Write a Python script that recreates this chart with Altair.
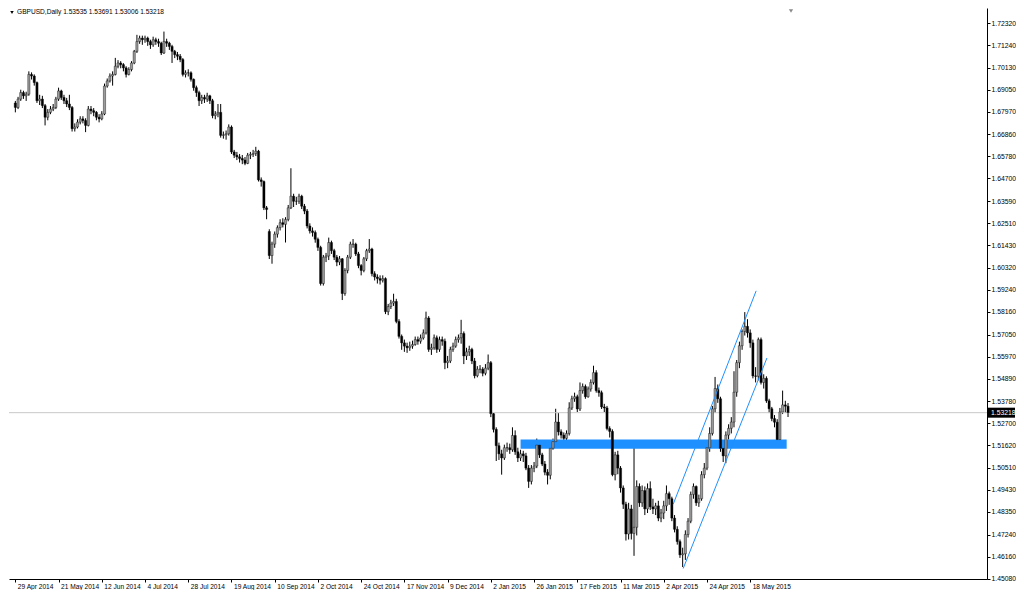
import altair as alt
import pandas as pd

title_text = "GBPUSD,Daily  1.53535 1.53691 1.53006 1.53218"

opens = [
    1.6840, 1.6818, 1.6859, 1.6891, 1.6875, 1.6883, 1.6980, 1.6972, 1.6940, 1.6851,
    1.6859, 1.6827, 1.6770, 1.6794, 1.6810, 1.6818, 1.6859, 1.6899, 1.6867, 1.6851,
    1.6835, 1.6818, 1.6714, 1.6722, 1.6746, 1.6762, 1.6754, 1.6730, 1.6810, 1.6802,
    1.6794, 1.6770, 1.6762, 1.6786, 1.6923, 1.6948, 1.6972, 1.6980, 1.7020, 1.7036,
    1.7028, 1.7012, 1.6980, 1.7004, 1.7036, 1.7093, 1.7141, 1.7158, 1.7150, 1.7158,
    1.7141, 1.7125, 1.7150, 1.7141, 1.7133, 1.7085, 1.7141, 1.7133, 1.7117, 1.7093,
    1.7077, 1.7069, 1.7053, 1.6980, 1.6988, 1.6988, 1.6956, 1.6915, 1.6891, 1.6851,
    1.6867, 1.6859, 1.6875, 1.6851, 1.6778, 1.6786, 1.6794, 1.6681, 1.6684, 1.6689,
    1.6722, 1.6600, 1.6584, 1.6576, 1.6568, 1.6560, 1.6544, 1.6584, 1.6588, 1.6592,
    1.6604, 1.6463, 1.6455, 1.6326, 1.6210, 1.6092, 1.6148, 1.6197, 1.6229, 1.6253,
    1.6245, 1.6269, 1.6326, 1.6383, 1.6358, 1.6358, 1.6383, 1.6334, 1.6310, 1.6237,
    1.6213, 1.6205, 1.6172, 1.6132, 1.5955, 1.6084, 1.6090, 1.6156, 1.6116, 1.6084,
    1.6060, 1.6076, 1.5906, 1.6019, 1.6084, 1.6148, 1.6148, 1.6100, 1.6043, 1.6019,
    1.6076, 1.6116, 1.6124, 1.6003, 1.5987, 1.5979, 1.5971, 1.5979, 1.5817, 1.5842,
    1.5859, 1.5867, 1.5769, 1.5696, 1.5664, 1.5648, 1.5640, 1.5648, 1.5656, 1.5680,
    1.5672, 1.5688, 1.5713, 1.5786, 1.5632, 1.5640, 1.5689, 1.5632, 1.5680, 1.5672,
    1.5567, 1.5575, 1.5632, 1.5648, 1.5680, 1.5689, 1.5710, 1.5600, 1.5620, 1.5632,
    1.5575, 1.5503, 1.5535, 1.5535, 1.5515, 1.5540, 1.5567, 1.5317, 1.5240, 1.5160,
    1.5120, 1.5100, 1.5150, 1.5150, 1.5140, 1.5210, 1.5130, 1.5100, 1.5120, 1.5110,
    1.5050, 1.4985, 1.5050, 1.5060, 1.5163, 1.5115, 1.5070, 1.5030, 1.5015, 1.5147,
    1.5180, 1.5276, 1.5228, 1.5212, 1.5196, 1.5220, 1.5345, 1.5390, 1.5400, 1.5340,
    1.5430, 1.5450, 1.5400, 1.5438, 1.5470, 1.5518, 1.5430, 1.5420, 1.5350, 1.5345,
    1.5244, 1.5230, 1.5018, 1.5115, 1.5050, 1.4953, 1.4873, 1.4727, 1.4850, 1.4730,
    1.4760, 1.4960, 1.4880, 1.4940, 1.4850, 1.4950, 1.4860, 1.4850, 1.4865, 1.4805,
    1.4830, 1.4865, 1.4925, 1.4900, 1.4805, 1.4750, 1.4690, 1.4625, 1.4630, 1.4725,
    1.4790, 1.4921, 1.4960, 1.4880, 1.4900, 1.5018, 1.5050, 1.5150, 1.5220, 1.5341,
    1.5440, 1.5390, 1.5147, 1.5110, 1.5212, 1.5245, 1.5276, 1.5422, 1.5567, 1.5650,
    1.5720, 1.5745, 1.5713, 1.5664, 1.5502, 1.5500, 1.5680, 1.5470, 1.5490, 1.5380,
    1.5341, 1.5293, 1.5275, 1.5190, 1.5325, 1.5360, 1.53535,
]

highs = [
    1.6850, 1.6870, 1.6905, 1.6900, 1.6895, 1.6995, 1.6990, 1.6980, 1.6945, 1.6880,
    1.6875, 1.6835, 1.6810, 1.6825, 1.6835, 1.6870, 1.6915, 1.6905, 1.6880, 1.6865,
    1.6880, 1.6825, 1.6740, 1.6760, 1.6775, 1.6775, 1.6765, 1.6825, 1.6825, 1.6815,
    1.6800, 1.6785, 1.6800, 1.6935, 1.6960, 1.6985, 1.6995, 1.7061, 1.7050, 1.7045,
    1.7035, 1.7020, 1.7015, 1.7045, 1.7100, 1.7174, 1.7170, 1.7170, 1.7170, 1.7165,
    1.7150, 1.7165, 1.7160, 1.7155, 1.7140, 1.7190, 1.7155, 1.7140, 1.7125, 1.7100,
    1.7090, 1.7080, 1.7060, 1.7000, 1.7005, 1.6995, 1.6960, 1.6925, 1.6900, 1.6880,
    1.6880, 1.6890, 1.6880, 1.6860, 1.6800, 1.6835, 1.6835, 1.6700, 1.6705, 1.6735,
    1.6730, 1.6610, 1.6600, 1.6590, 1.6585, 1.6575, 1.6595, 1.6600, 1.6610, 1.6625,
    1.6610, 1.6475, 1.6460, 1.6335, 1.6221, 1.6160, 1.6210, 1.6240, 1.6270, 1.6275,
    1.6280, 1.6340, 1.6520, 1.6395, 1.6380, 1.6395, 1.6390, 1.6345, 1.6320, 1.6250,
    1.6230, 1.6215, 1.6180, 1.6140, 1.6095, 1.6105, 1.6180, 1.6165, 1.6125, 1.6095,
    1.6090, 1.6080, 1.6030, 1.6095, 1.6160, 1.6173, 1.6155, 1.6110, 1.6050, 1.6085,
    1.6125, 1.6173, 1.6130, 1.6015, 1.6000, 1.5995, 1.5995, 1.5985, 1.5855, 1.5875,
    1.5905, 1.5880, 1.5780, 1.5705, 1.5680, 1.5665, 1.5670, 1.5675, 1.5695, 1.5695,
    1.5705, 1.5730, 1.5817, 1.5795, 1.5660, 1.5705, 1.5700, 1.5695, 1.5695, 1.5685,
    1.5600, 1.5645, 1.5665, 1.5695, 1.5705, 1.5777, 1.5720, 1.5640, 1.5650, 1.5640,
    1.5590, 1.5550, 1.5555, 1.5545, 1.5560, 1.5607, 1.5575, 1.5320, 1.5250, 1.5175,
    1.5140, 1.5165, 1.5175, 1.5170, 1.5250, 1.5235, 1.5150, 1.5140, 1.5135, 1.5125,
    1.5065, 1.5065, 1.5080, 1.5195, 1.5175, 1.5125, 1.5085, 1.5045, 1.5160, 1.5195,
    1.5341, 1.5320, 1.5240, 1.5225, 1.5235, 1.5373, 1.5405, 1.5420, 1.5410, 1.5470,
    1.5465, 1.5460, 1.5450, 1.5485, 1.5552, 1.5530, 1.5445, 1.5430, 1.5365, 1.5355,
    1.5255, 1.5240, 1.5130, 1.5135, 1.5060, 1.4965, 1.4885, 1.4880, 1.4870, 1.5150,
    1.4990, 1.4975, 1.4965, 1.4960, 1.4975, 1.4985, 1.4900, 1.4880, 1.4890, 1.4850,
    1.4890, 1.4965, 1.4935, 1.4910, 1.4820, 1.4765, 1.4700, 1.4660, 1.4745, 1.4805,
    1.4935, 1.4975, 1.4965, 1.4920, 1.5035, 1.5075, 1.5165, 1.5250, 1.5355, 1.5497,
    1.5460, 1.5400, 1.5160, 1.5230, 1.5265, 1.5300, 1.5525, 1.5580, 1.5670, 1.5730,
    1.5815, 1.5780, 1.5730, 1.5680, 1.5545, 1.5690, 1.5690, 1.5510, 1.5500, 1.5390,
    1.5350, 1.5310, 1.5290, 1.5345, 1.5430, 1.5380, 1.53691,
]

lows = [
    1.6794, 1.6810, 1.6850, 1.6860, 1.6850, 1.6875, 1.6955, 1.6925, 1.6840, 1.6830,
    1.6815, 1.6730, 1.6755, 1.6785, 1.6800, 1.6810, 1.6850, 1.6855, 1.6835, 1.6820,
    1.6805, 1.6700, 1.6700, 1.6715, 1.6735, 1.6740, 1.6697, 1.6725, 1.6785, 1.6775,
    1.6755, 1.6745, 1.6755, 1.6780, 1.6915, 1.6940, 1.6925, 1.6975, 1.7010, 1.7010,
    1.6995, 1.6965, 1.6975, 1.6995, 1.7030, 1.7085, 1.7130, 1.7125, 1.7135, 1.7120,
    1.7105, 1.7115, 1.7125, 1.7115, 1.7075, 1.7080, 1.7115, 1.7100, 1.7036, 1.7060,
    1.7050, 1.7040, 1.6970, 1.6965, 1.6970, 1.6945, 1.6900, 1.6870, 1.6825, 1.6835,
    1.6840, 1.6845, 1.6835, 1.6765, 1.6760, 1.6770, 1.6670, 1.6665, 1.6660, 1.6680,
    1.6590, 1.6570, 1.6560, 1.6548, 1.6540, 1.6535, 1.6540, 1.6565, 1.6575, 1.6580,
    1.6455, 1.6430, 1.6315, 1.6270, 1.6075, 1.6052, 1.6130, 1.6180, 1.6215, 1.6230,
    1.6156, 1.6260, 1.6320, 1.6330, 1.6340, 1.6345, 1.6320, 1.6295, 1.6225, 1.6200,
    1.6185, 1.6155, 1.6115, 1.5945, 1.5945, 1.6060, 1.6070, 1.6100, 1.6070, 1.6040,
    1.6045, 1.5874, 1.5895, 1.6005, 1.6075, 1.6130, 1.6090, 1.6030, 1.5995, 1.6010,
    1.6065, 1.6105, 1.5990, 1.5970, 1.5955, 1.5950, 1.5960, 1.5805, 1.5800, 1.5830,
    1.5845, 1.5760, 1.5685, 1.5630, 1.5620, 1.5615, 1.5625, 1.5635, 1.5650, 1.5655,
    1.5660, 1.5680, 1.5705, 1.5620, 1.5605, 1.5630, 1.5615, 1.5620, 1.5650, 1.5535,
    1.5540, 1.5565, 1.5620, 1.5640, 1.5665, 1.5660, 1.5560, 1.5580, 1.5600, 1.5560,
    1.5490, 1.5495, 1.5515, 1.5500, 1.5505, 1.5530, 1.5300, 1.5225, 1.5085, 1.5090,
    1.5018, 1.5090, 1.5130, 1.5120, 1.5130, 1.5115, 1.5080, 1.5085, 1.5080, 1.5040,
    1.4953, 1.4970, 1.5030, 1.5050, 1.5100, 1.5060, 1.5015, 1.4970, 1.4995, 1.5140,
    1.5170, 1.5210, 1.5195, 1.5180, 1.5185, 1.5210, 1.5335, 1.5375, 1.5325, 1.5330,
    1.5415, 1.5390, 1.5395, 1.5425, 1.5460, 1.5420, 1.5400, 1.5340, 1.5325, 1.5235,
    1.5200, 1.5010, 1.4990, 1.5020, 1.4930, 1.4850, 1.4695, 1.4700, 1.4700, 1.4620,
    1.4720, 1.4860, 1.4860, 1.4820, 1.4830, 1.4845, 1.4825, 1.4820, 1.4790, 1.4785,
    1.4800, 1.4840, 1.4870, 1.4790, 1.4735, 1.4675, 1.4610, 1.4565, 1.4600, 1.4710,
    1.4780, 1.4900, 1.4865, 1.4860, 1.4890, 1.5000, 1.5040, 1.5130, 1.5210, 1.5320,
    1.5370, 1.5130, 1.5080, 1.5074, 1.5190, 1.5220, 1.5250, 1.5400, 1.5540, 1.5630,
    1.5700, 1.5690, 1.5640, 1.5490, 1.5470, 1.5480, 1.5460, 1.5440, 1.5370, 1.5320,
    1.5280, 1.5250, 1.5170, 1.5170, 1.5315, 1.5320, 1.53006,
]

closes = [
    1.6818, 1.6859, 1.6891, 1.6875, 1.6883, 1.6980, 1.6972, 1.6940, 1.6851, 1.6859,
    1.6827, 1.6770, 1.6794, 1.6810, 1.6818, 1.6859, 1.6899, 1.6867, 1.6851, 1.6835,
    1.6818, 1.6714, 1.6722, 1.6746, 1.6762, 1.6754, 1.6730, 1.6810, 1.6802, 1.6794,
    1.6770, 1.6762, 1.6786, 1.6923, 1.6948, 1.6972, 1.6980, 1.7020, 1.7036, 1.7028,
    1.7012, 1.6980, 1.7004, 1.7036, 1.7093, 1.7141, 1.7158, 1.7150, 1.7158, 1.7141,
    1.7125, 1.7150, 1.7141, 1.7133, 1.7085, 1.7141, 1.7133, 1.7117, 1.7093, 1.7077,
    1.7069, 1.7053, 1.6980, 1.6988, 1.6988, 1.6956, 1.6915, 1.6891, 1.6851, 1.6867,
    1.6859, 1.6875, 1.6851, 1.6778, 1.6786, 1.6794, 1.6681, 1.6684, 1.6689, 1.6722,
    1.6600, 1.6584, 1.6576, 1.6568, 1.6560, 1.6544, 1.6584, 1.6588, 1.6592, 1.6604,
    1.6463, 1.6455, 1.6326, 1.6318, 1.6092, 1.6148, 1.6197, 1.6229, 1.6253, 1.6245,
    1.6269, 1.6326, 1.6383, 1.6358, 1.6358, 1.6383, 1.6334, 1.6310, 1.6237, 1.6213,
    1.6205, 1.6172, 1.6132, 1.5955, 1.6084, 1.6090, 1.6156, 1.6116, 1.6084, 1.6060,
    1.6076, 1.5906, 1.6019, 1.6084, 1.6148, 1.6148, 1.6100, 1.6043, 1.6019, 1.6076,
    1.6116, 1.6124, 1.6003, 1.5987, 1.5979, 1.5971, 1.5979, 1.5817, 1.5842, 1.5859,
    1.5867, 1.5769, 1.5696, 1.5664, 1.5648, 1.5640, 1.5648, 1.5656, 1.5680, 1.5672,
    1.5688, 1.5713, 1.5786, 1.5632, 1.5640, 1.5689, 1.5632, 1.5680, 1.5672, 1.5567,
    1.5575, 1.5632, 1.5648, 1.5680, 1.5689, 1.5710, 1.5600, 1.5620, 1.5632, 1.5575,
    1.5503, 1.5535, 1.5535, 1.5515, 1.5540, 1.5567, 1.5317, 1.5240, 1.5160, 1.5120,
    1.5100, 1.5150, 1.5150, 1.5140, 1.5210, 1.5130, 1.5100, 1.5120, 1.5110, 1.5050,
    1.4985, 1.5050, 1.5060, 1.5163, 1.5115, 1.5070, 1.5030, 1.5015, 1.5147, 1.5180,
    1.5276, 1.5228, 1.5212, 1.5196, 1.5220, 1.5345, 1.5390, 1.5400, 1.5340, 1.5430,
    1.5450, 1.5400, 1.5438, 1.5470, 1.5518, 1.5430, 1.5420, 1.5350, 1.5345, 1.5244,
    1.5230, 1.5018, 1.5115, 1.5050, 1.4953, 1.4873, 1.4727, 1.4850, 1.4730, 1.4760,
    1.4960, 1.4880, 1.4940, 1.4850, 1.4950, 1.4860, 1.4850, 1.4865, 1.4805, 1.4830,
    1.4865, 1.4925, 1.4900, 1.4805, 1.4750, 1.4690, 1.4625, 1.4630, 1.4725, 1.4790,
    1.4921, 1.4960, 1.4880, 1.4900, 1.5018, 1.5050, 1.5150, 1.5220, 1.5341, 1.5440,
    1.5390, 1.5147, 1.5110, 1.5212, 1.5245, 1.5276, 1.5422, 1.5567, 1.5650, 1.5720,
    1.5745, 1.5713, 1.5664, 1.5502, 1.5500, 1.5680, 1.5470, 1.5490, 1.5380, 1.5341,
    1.5293, 1.5275, 1.5190, 1.5325, 1.5360, 1.53535, 1.53218,
]

x_tick_bars = [0, 16, 32, 48, 64, 80, 96, 112, 128, 144, 160, 176, 192, 208, 224, 240, 256, 272]
x_tick_labels = [
    "29 Apr 2014", "21 May 2014", "12 Jun 2014", "4 Jul 2014", "28 Jul 2014",
    "19 Aug 2014", "10 Sep 2014", "2 Oct 2014", "24 Oct 2014", "17 Nov 2014",
    "9 Dec 2014", "2 Jan 2015", "26 Jan 2015", "17 Feb 2015", "11 Mar 2015",
    "2 Apr 2015", "24 Apr 2015", "18 May 2015",
]
y_ticks = [
    1.72320, 1.71240, 1.70130, 1.69050, 1.67970, 1.66860, 1.65780, 1.64700,
    1.63590, 1.62510, 1.61430, 1.60320, 1.59240, 1.58160, 1.57050, 1.55970,
    1.54890, 1.53780, 1.52700, 1.51620, 1.50510, 1.49430, 1.48350, 1.47240,
    1.46160, 1.45080,
]
last_price = 1.53218

zone_bars = [187.0, 285.5]
zone_prices = [1.5190, 1.5145]

channel_names = ["lower", "upper"]
channel_bar_start = [247.2, 243.5]
channel_bar_end = [278.2, 274.2]
channel_price_start = [1.4558, 1.4873]
channel_price_end = [1.5590, 1.5919]

# ---------------------------------------------------------------------------
W, H = 978, 571
FONT = "Liberation Sans"
BLUE = "#1E90FF"

df = pd.DataFrame({
    "bar": list(range(len(closes))),
    "open": opens, "high": highs, "low": lows, "close": closes,
})
df["dir"] = ["up" if c >= o else "down" for o, c in zip(opens, closes)]

xs = alt.Scale(domain=[-0.5, 357.8], nice=False, zero=False)
ys = alt.Scale(domain=[1.450651, 1.730553], nice=False, zero=False)

label_js = "[" + ",".join("'" + s + "'" for s in x_tick_labels) + "][round(datum.value/16)]"

x_axis = alt.Axis(
    values=x_tick_bars, labelExpr=label_js, grid=False, title=None,
    tickSize=3, tickColor="#000", domainColor="#000", labelColor="#000",
    labelFont=FONT, labelFontSize=6.6, labelAlign="left", labelOffset=2,
    labelPadding=1, labelFlush=False, labelOverlap=False, labelBound=False,
)
y_axis = alt.Axis(
    values=y_ticks, format=".5f", orient="right", grid=False, title=None,
    tickSize=3, tickColor="#000", domainColor="#000", labelColor="#000",
    labelFont=FONT, labelFontSize=6.8, labelPadding=1, labelOverlap=False,
    labelFlush=False, labelBound=False,
)


def X(field):
    return alt.X(field, scale=xs, axis=x_axis)


def Y(field):
    return alt.Y(field, scale=ys, axis=y_axis)


base = alt.Chart(df)

wicks = base.mark_rule(color="#000", strokeWidth=1).encode(
    x=X("bar:Q"), y=Y("low:Q"), y2="high:Q",
)

price_line = alt.Chart(pd.DataFrame({"p": [last_price]})).mark_rule(
    color="#c8c8c8", strokeWidth=1
).encode(y=Y("p:Q"))

zone = alt.Chart(pd.DataFrame({
    "b0": [zone_bars[0]], "b1": [zone_bars[1]],
    "p0": [zone_prices[0]], "p1": [zone_prices[1]],
})).mark_rect(color=BLUE).encode(
    x=X("b0:Q"), x2="b1:Q", y=Y("p0:Q"), y2="p1:Q",
)

bodies = base.mark_bar(size=2.2, stroke="#000", strokeWidth=0.4).encode(
    x=X("bar:Q"), y=Y("open:Q"), y2="close:Q",
    fill=alt.Fill("dir:N", scale=alt.Scale(domain=["up", "down"], range=["#9c9c9c", "#000000"]), legend=None),
)

channels = alt.Chart(pd.DataFrame({
    "name": channel_names, "b0": channel_bar_start, "b1": channel_bar_end,
    "p0": channel_price_start, "p1": channel_price_end,
})).mark_rule(color=BLUE, strokeWidth=1).encode(
    x=X("b0:Q"), x2="b1:Q", y=Y("p0:Q"), y2="p1:Q",
)

price_box = alt.Chart(pd.DataFrame({"p": [last_price]})).mark_rect(
    color="#000", yOffset=-5, y2Offset=5
).encode(
    x=alt.value(W + 1), x2=alt.value(W + 28), y=Y("p:Q"), y2="p:Q",
)
price_text = alt.Chart(pd.DataFrame({"p": [last_price], "t": [f"{last_price:.5f}"]})).mark_text(
    color="#fff", font=FONT, fontSize=6.8, align="left", baseline="middle"
).encode(
    x=alt.value(W + 4), y=Y("p:Q"), text="t:N",
)

title_mark = alt.Chart(pd.DataFrame({"t": [title_text]})).mark_text(
    font=FONT, fontSize=6.6, color="#000", align="left", baseline="top"
).encode(x=alt.value(8), y=alt.value(1), text="t:N")

title_tri = alt.Chart(pd.DataFrame({"t": [title_text]})).mark_point(
    shape="triangle-down", filled=True, color="#000", size=12, opacity=1
).encode(x=alt.value(3), y=alt.value(4.5))

shift_tri = alt.Chart(pd.DataFrame({"t": [title_text]})).mark_point(
    shape="triangle-down", filled=True, color="#8a8a8a", size=18, opacity=1
).encode(x=alt.value(782), y=alt.value(3))

chart = alt.layer(
    wicks, price_line, zone, bodies, channels, price_box, price_text,
    title_mark, title_tri, shift_tri,
).properties(width=W, height=H, padding=0, background="white").configure_view(stroke=None)

chart.save("out.html", embed_options={"renderer": "svg", "actions": False})
